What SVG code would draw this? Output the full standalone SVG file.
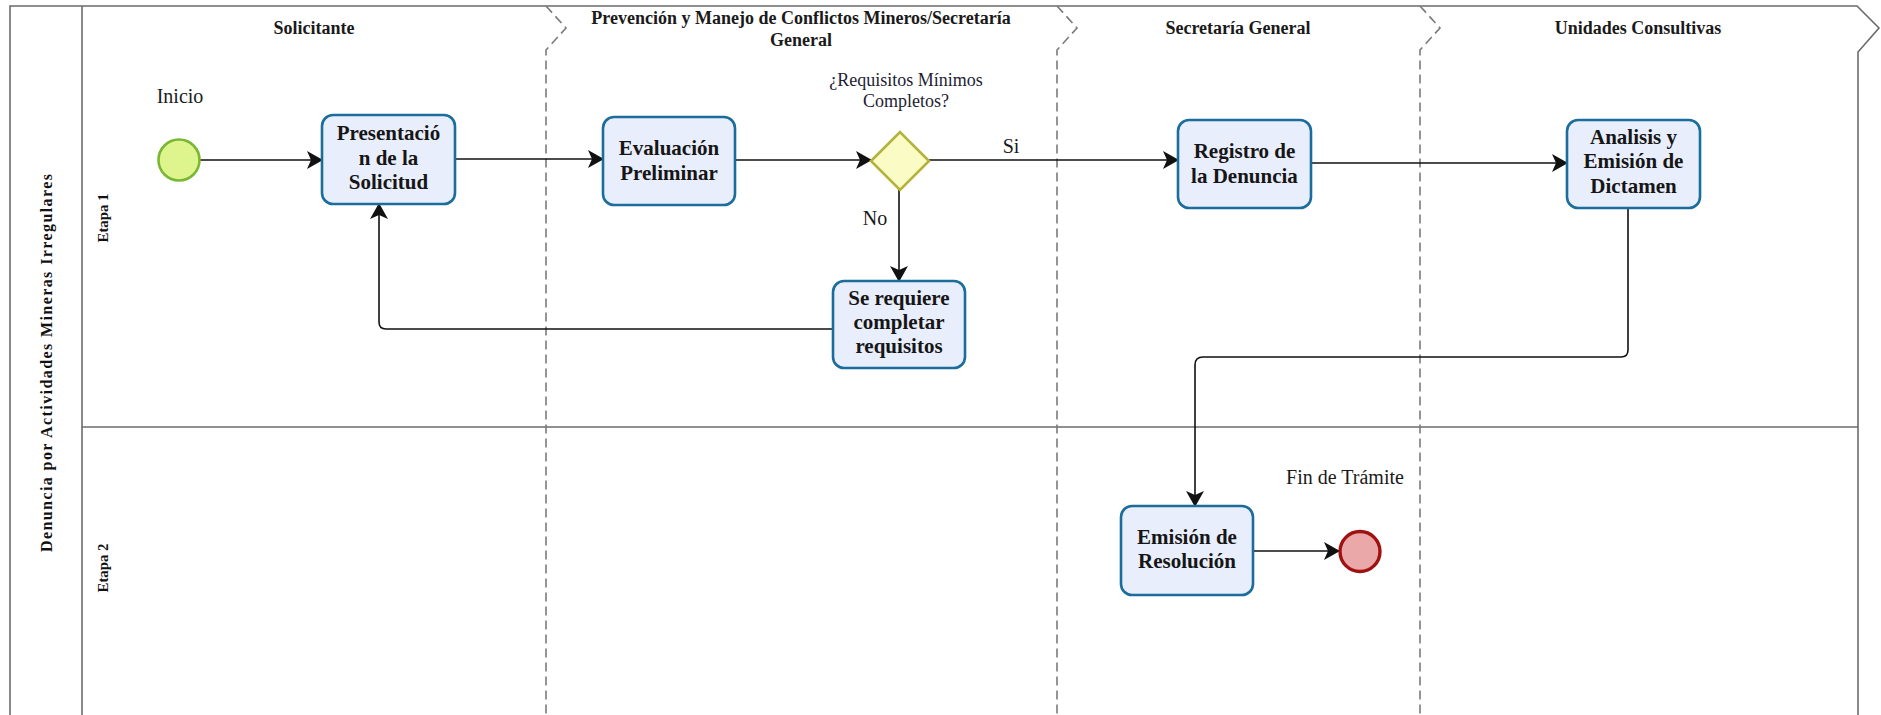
<svg xmlns="http://www.w3.org/2000/svg" width="1881" height="715" viewBox="0 0 1881 715">
<defs>
<style>
.frame{fill:none;stroke:#6b6b6b;stroke-width:1.6}
.dash{fill:none;stroke:#7a7a7a;stroke-width:1.6;stroke-dasharray:9 5}
.hdr{font-family:"Liberation Serif",serif;font-weight:bold;font-size:18px;fill:#1a1a1a;text-anchor:middle}
.side{font-family:"Liberation Serif",serif;font-weight:bold;fill:#111;text-anchor:middle}
.task rect{fill:#e9eefc;stroke:#1b6d9b;stroke-width:2.6}
.task text{font-family:"Liberation Serif",serif;font-weight:bold;font-size:21px;fill:#161616;text-anchor:middle}
.lbl{font-family:"Liberation Serif",serif;font-size:20px;fill:#1a1a1a;text-anchor:middle}
.glbl{font-family:"Liberation Serif",serif;font-size:18px;fill:#231c33;text-anchor:middle}
.conn path{fill:none;stroke:#111;stroke-width:1.6;marker-end:url(#arr)}
</style>
<marker id="arr" viewBox="0 0 16 18" refX="15" refY="9" markerWidth="16" markerHeight="18" markerUnits="userSpaceOnUse" orient="auto">
<path d="M0,0 L16,9 L0,18 L4,9 Z" fill="#111"/>
</marker>
</defs>

<g id="pool">
<path class="frame" d="M10,715 V6 H1857 L1879,28 L1858,52 V715"/>
<line class="frame" x1="82" y1="6" x2="82" y2="715"/>
<line class="frame" x1="82" y1="427" x2="1858" y2="427"/>
<text class="side" font-size="16" textLength="378" lengthAdjust="spacing" transform="translate(52,363) rotate(-90)">Denuncia por Actividades Mineras Irregulares</text>
</g>

<g id="stages">
<text class="side" font-size="14" textLength="49" lengthAdjust="spacingAndGlyphs" transform="translate(108,218) rotate(-90)">Etapa 1</text>
<text class="side" font-size="14" textLength="49" lengthAdjust="spacingAndGlyphs" transform="translate(108,568) rotate(-90)">Etapa 2</text>
</g>

<g id="lanes">
<path class="dash" d="M546,6 L566,28 L546,50 V715"/>
<path class="dash" d="M1057,6 L1077,28 L1057,50 V715"/>
<path class="dash" d="M1420,6 L1440,28 L1420,50 V715"/>
<text class="hdr" x="314" y="34">Solicitante</text>
<text class="hdr" x="801" y="24">Prevención y Manejo de Conflictos Mineros/Secretaría</text>
<text class="hdr" x="801" y="46">General</text>
<text class="hdr" x="1238" y="34">Secretaría General</text>
<text class="hdr" x="1638" y="34">Unidades Consultivas</text>
</g>

<g id="connectors" class="conn">
<path d="M200,160 H322"/>
<path d="M455,159 H603"/>
<path d="M735,160 H871"/>
<path d="M929,160 H1178"/>
<path d="M899,190 V281"/>
<path d="M833,329 H386 Q379,329 379,322 V204"/>
<path d="M1311,163 H1567"/>
<path d="M1628,208 V350 Q1628,357 1621,357 H1203 Q1195,357 1195,365 V506"/>
<path d="M1253,551 H1339"/>
<text class="lbl" x="1011" y="153">Si</text>
<text class="lbl" x="875" y="225">No</text>
</g>

<g id="start">
<circle cx="179" cy="160" r="20.5" fill="#ddf58c" stroke="#79b832" stroke-width="2.6"/>
<text class="lbl" x="180" y="103">Inicio</text>
</g>

<g id="presentacion" class="task">
<rect x="322" y="115" width="133" height="89" rx="11"/>
<text x="388.5" y="140">Presentació</text>
<text x="388.5" y="165">n de la</text>
<text x="388.5" y="189">Solicitud</text>
</g>

<g id="evaluacion" class="task">
<rect x="603" y="117" width="132" height="88" rx="11"/>
<text x="669" y="155">Evaluación</text>
<text x="669" y="180">Preliminar</text>
</g>

<g id="gateway">
<path d="M871,161 L900,132 L929,161 L900,190 Z" fill="#fbfbc6" stroke="#b3b33a" stroke-width="2.6"/>
<text class="glbl" x="906" y="86">¿Requisitos Mínimos</text>
<text class="glbl" x="906" y="107">Completos?</text>
</g>

<g id="completar" class="task">
<rect x="833" y="281" width="132" height="87" rx="11"/>
<text x="899" y="305">Se requiere</text>
<text x="899" y="329">completar</text>
<text x="899" y="353">requisitos</text>
</g>

<g id="registro" class="task">
<rect x="1178" y="120" width="133" height="88" rx="11"/>
<text x="1244.5" y="158">Registro de</text>
<text x="1244.5" y="183">la Denuncia</text>
</g>

<g id="analisis" class="task">
<rect x="1567" y="120" width="133" height="88" rx="11"/>
<text x="1633.5" y="144">Analisis y</text>
<text x="1633.5" y="168">Emisión de</text>
<text x="1633.5" y="193">Dictamen</text>
</g>

<g id="emision" class="task">
<rect x="1121" y="506" width="132" height="89" rx="11"/>
<text x="1187" y="544">Emisión de</text>
<text x="1187" y="568">Resolución</text>
</g>

<g id="end">
<circle cx="1360" cy="551.5" r="20" fill="#eba8a8" stroke="#a01212" stroke-width="3.4"/>
<text class="lbl" x="1345" y="484">Fin de Trámite</text>
</g>
</svg>
